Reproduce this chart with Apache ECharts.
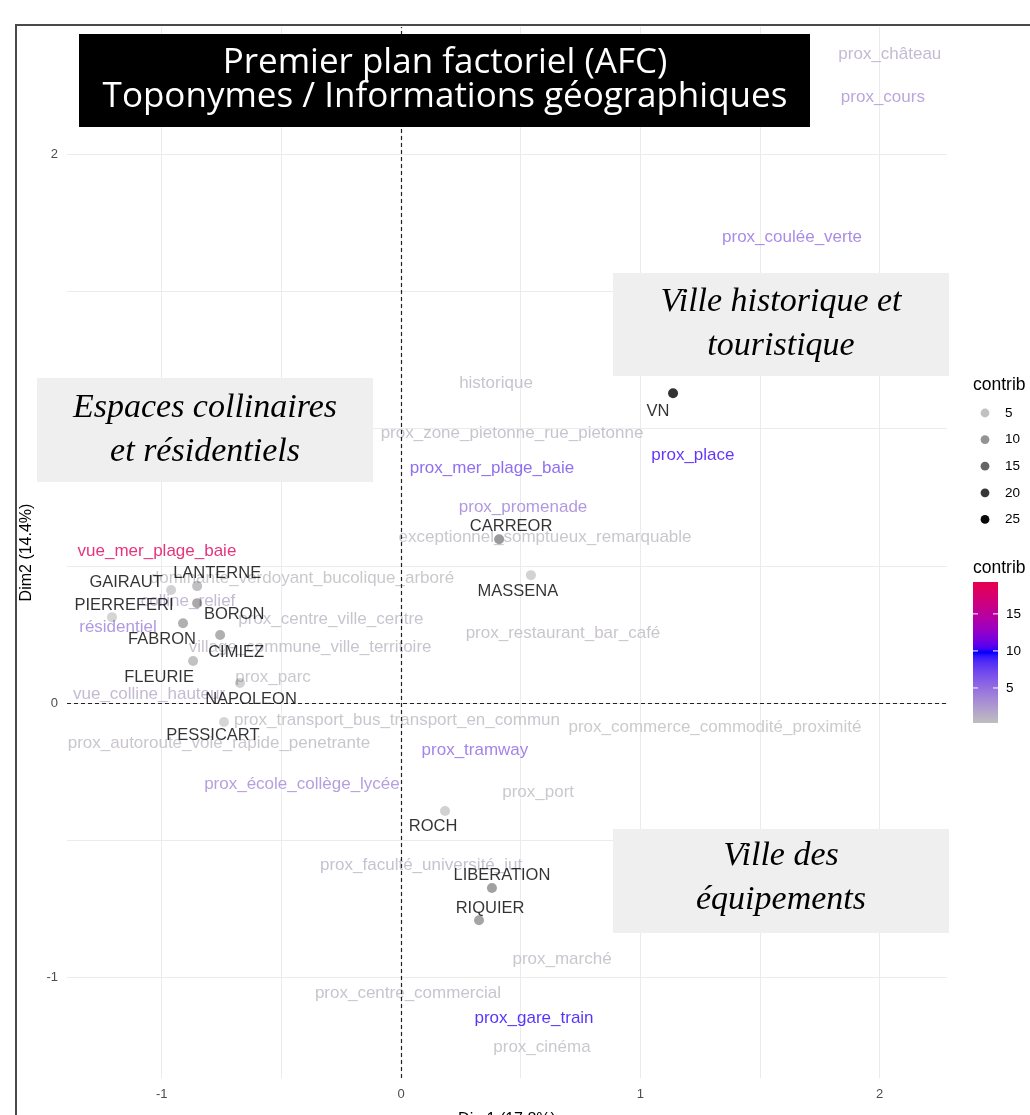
<!DOCTYPE html>
<html><head><meta charset="utf-8">
<script src="https://cdn.jsdelivr.net/npm/echarts@6/dist/echarts.min.js"></script>
<style>html,body{margin:0;padding:0;background:#fff}#c{width:1030px;height:1115px}</style>
</head><body><div id="c"></div>
<script>
// ---------- DATA ----------
const rowNames = ['VN','CARREOR','MASSENA','GAIRAUT','LANTERNE','PIERREFERI','BORON','FABRON','CIMIEZ','FLEURIE','NAPOLEON','PESSICART','ROCH','LIBERATION','RIQUIER'];
const rowDim1 = [1.137,0.410,0.543,-0.961,-0.852,-1.208,-0.852,-0.911,-0.756,-0.869,-0.673,-0.740,0.184,0.380,0.326];
const rowDim2 = [1.129,0.597,0.466,0.412,0.426,0.313,0.364,0.291,0.248,0.153,0.073,-0.069,-0.393,-0.674,-0.791];
const rowContrib = [26,12,4.3,4.5,6.8,4.0,10,9,9,6.5,4.5,4.0,4.5,11,10.5];

const colNames = ['prox_château','prox_cours','prox_coulée_verte','historique','prox_zone_pietonne_rue_pietonne','prox_mer_plage_baie','prox_place','prox_promenade','exceptionnel_somptueux_remarquable','vue_mer_plage_baie','dominante_verdoyant_bucolique_arboré','colline_relief','résidentiel','prox_centre_ville_centre','village_commune_ville_territoire','prox_restaurant_bar_café','prox_parc','vue_colline_hauteur','prox_transport_bus_transport_en_commun','prox_commerce_commodité_proximité','prox_autoroute_voie_rapide_penetrante','prox_tramway','prox_école_collège_lycée','prox_port','prox_faculté_université_iut','prox_marché','prox_centre_commercial','prox_gare_train','prox_cinéma'];
const colDim1 = [2.043,2.014,1.634,0.397,0.464,0.380,1.220,0.510,0.602,-1.020,-0.414,-0.890,-1.183,-0.293,-0.380,0.677,-0.535,-1.053,-0.017,1.312,-0.761,0.309,-0.414,0.573,0.084,0.673,0.029,0.556,0.589];
const colDim2 = [2.364,2.208,1.698,1.166,0.984,0.856,0.903,0.714,0.605,0.554,0.455,0.372,0.277,0.306,0.204,0.255,0.095,0.033,-0.062,-0.087,-0.146,-0.171,-0.295,-0.324,-0.590,-0.933,-1.056,-1.148,-1.253];
const colContrib = [1.5,3,5,0.8,0.8,7,10.2,4,0.6,18.5,0.5,1.5,4,0.8,0.8,0.7,0.5,1.5,0.6,0.27,0.7,5.5,3.5,0.5,1,0.6,0.8,10,0.5];

const xTickLabels = [-1,0,1,2];
const yTickLabels = [-1,0,1,2];
const xGridValues = [-1,-0.5,0,0.5,1,1.5,2];
const yGridValues = [-1,-0.5,0,0.5,1,1.5,2];
const alphaLegendValues = [5,10,15,20,25];
const colorLegendTicks = [5,10,15];

// ---------- LAYOUT / STYLE ----------
const ALPHA_LIMITS = [1, 26];
const COLOR_LIMITS = [0.27, 19.3];
const GRADIENT = ['#BEBEBE', '#0000FF', '#E6004C'];
const rowLabelOffset = {
  VN:[-15,18], CARREOR:[12,-13], MASSENA:[-13,16], GAIRAUT:[-45,-8], LANTERNE:[20,-13],
  PIERREFERI:[12,-12], BORON:[37,11], FABRON:[-21,16], CIMIEZ:[16,17], FLEURIE:[-34,16],
  NAPOLEON:[11,16], PESSICART:[-11,13], ROCH:[-12,16], LIBERATION:[10,-13], RIQUIER:[11,-12]
};

// ---------- colour helpers (Lab interpolation like ggplot gradientn) ----------
function hex2rgb(h){h=h.replace('#','');return [parseInt(h.substr(0,2),16),parseInt(h.substr(2,2),16),parseInt(h.substr(4,2),16)];}
function lin(c){c/=255;return c<=0.04045?c/12.92:Math.pow((c+0.055)/1.055,2.4);}
function delin(v){v=v<=0.0031308?12.92*v:1.055*Math.pow(v,1/2.4)-0.055;return Math.round(Math.max(0,Math.min(1,v))*255);}
function rgb2lab(rgb){const R=lin(rgb[0]),G=lin(rgb[1]),B=lin(rgb[2]);
  const X=(0.4124564*R+0.3575761*G+0.1804375*B)/0.95047,Y=(0.2126729*R+0.7151522*G+0.0721750*B),Z=(0.0193339*R+0.1191920*G+0.9503041*B)/1.08883;
  const f=t=>t>0.008856?Math.cbrt(t):7.787*t+16/116;const fx=f(X),fy=f(Y),fz=f(Z);
  return [116*fy-16,500*(fx-fy),200*(fy-fz)];}
function lab2rgb(lab){const fy=(lab[0]+16)/116,fx=fy+lab[1]/500,fz=fy-lab[2]/200;
  const fi=t=>{const t3=t*t*t;return t3>0.008856?t3:(t-16/116)/7.787;};
  const X=fi(fx)*0.95047,Y=fi(fy),Z=fi(fz)*1.08883;
  const R=3.2404542*X-1.5371385*Y-0.4985314*Z,G=-0.9692660*X+1.8760108*Y+0.0415560*Z,B=0.0556434*X-0.2040259*Y+1.0572252*Z;
  return 'rgb('+delin(R)+','+delin(G)+','+delin(B)+')';}
const labs = GRADIENT.map(c=>rgb2lab(hex2rgb(c)));
const cMin = COLOR_LIMITS[0], cMax = COLOR_LIMITS[1];
function colColor(v){let t=(v-cMin)/(cMax-cMin);t=Math.max(0,Math.min(1,t));
  let a,b,u;if(t<0.5){a=labs[0];b=labs[1];u=t*2;}else{a=labs[1];b=labs[2];u=(t-0.5)*2;}
  return lab2rgb([a[0]+(b[0]-a[0])*u,a[1]+(b[1]-a[1])*u,a[2]+(b[2]-a[2])*u]);}
function rowAlpha(v){let t=(v-ALPHA_LIMITS[0])/(ALPHA_LIMITS[1]-ALPHA_LIMITS[0]);t=Math.max(0,Math.min(1,t));return 0.1+0.9*t;}

// ---------- series data ----------
const colData = colNames.map((n,i)=>({
  name:n, value:[colDim1[i],colDim2[i],colContrib[i]],
  label:{show:true, formatter:n, color:colColor(colContrib[i])}
}));
const rowData = rowNames.map((n,i)=>({
  name:n, value:[rowDim1[i],rowDim2[i],rowContrib[i]],
  itemStyle:{color:'rgba(0,0,0,'+rowAlpha(rowContrib[i]).toFixed(3)+')'},
  label:{show:true, formatter:n, offset:rowLabelOffset[n]||[0,-14]}
}));

// ---------- graphics (title, annotations, legends) ----------
const font = 'Liberation Sans, Arial, sans-serif';
const graphics = [];
graphics.push({type:'rect', shape:{x:16,y:25,width:1100,height:1200}, style:{fill:'none',stroke:'#4a4a4a',lineWidth:2}, z:50, silent:true});
graphics.push({type:'rect', shape:{x:79,y:34,width:731,height:93}, style:{fill:'#000'}, z:60});
graphics.push({type:'text', x:445, y:80, style:{text:'Premier plan factoriel (AFC)\nToponymes / Informations géographiques', fill:'#fff', font:'35px "Open Sans", sans-serif', align:'center', verticalAlign:'middle', lineHeight:34}, z:61});
function annot(x,y,w,h,text,cx,cy){
  graphics.push({type:'rect', shape:{x:x,y:y,width:w,height:h}, style:{fill:'#efefef'}, z:60});
  graphics.push({type:'text', x:cx, y:cy, style:{text:text, fill:'#000', font:'italic 34px "Liberation Serif", serif', align:'center', verticalAlign:'middle', lineHeight:44}, z:61});
}
annot(37,378,336,104,'Espaces collinaires\net résidentiels',205,430);
annot(613,273,336,103,'Ville historique et\ntouristique',781,324);
annot(613,829,336,104,'Ville des\néquipements',781,878);

// alpha legend
graphics.push({type:'text', x:973, y:385, style:{text:'contrib', fill:'#000', font:'17.5px '+font, verticalAlign:'middle'}, z:60});
alphaLegendValues.forEach((v,i)=>{
  const cy = 413 + i*26.6;
  graphics.push({type:'circle', shape:{cx:985, cy:cy, r:4.4}, style:{fill:'rgba(0,0,0,'+rowAlpha(v).toFixed(3)+')'}, z:60});
  graphics.push({type:'text', x:1005, y:cy, style:{text:String(v), fill:'#000', font:'13.5px '+font, verticalAlign:'middle'}, z:60});
});
// colour bar legend
const barX=973, barY=582, barW=25, barH=141;
graphics.push({type:'text', x:973, y:568, style:{text:'contrib', fill:'#000', font:'17.5px '+font, verticalAlign:'middle'}, z:60});
const stops=[];for(let k=0;k<=40;k++){const v=cMax-(cMax-cMin)*k/40;stops.push({offset:k/40,color:colColor(v)});}
graphics.push({type:'rect', shape:{x:barX,y:barY,width:barW,height:barH}, style:{fill:new echarts.graphic.LinearGradient(0,0,0,1,stops)}, z:60});
colorLegendTicks.forEach(v=>{
  const yy = barY + barH - (v-cMin)/(cMax-cMin)*barH;
  graphics.push({type:'line', shape:{x1:barX,y1:yy,x2:barX+5,y2:yy}, style:{stroke:'#fff',lineWidth:1}, z:61});
  graphics.push({type:'line', shape:{x1:barX+barW-5,y1:yy,x2:barX+barW,y2:yy}, style:{stroke:'#fff',lineWidth:1}, z:61});
  graphics.push({type:'text', x:1006, y:yy, style:{text:String(v), fill:'#000', font:'13.5px '+font, verticalAlign:'middle'}, z:60});
});

// ---------- chart ----------
const chart = echarts.init(document.getElementById('c'));
chart.setOption({
  backgroundColor:'#fff',
  animation:false,
  grid:{left:67,right:83,top:27,bottom:37,containLabel:false,outerBoundsMode:'none'},
  xAxis:{type:'value', min:-1.396, max:2.282,
    axisLine:{show:false}, axisTick:{show:false, customValues:xGridValues},
    axisLabel:{customValues:xTickLabels, color:'#4d4d4d', fontSize:13, margin:10, fontFamily:font},
    splitLine:{show:true, lineStyle:{color:'#ebebeb', width:1}},
    name:'Dim1 (17.8%)', nameLocation:'middle', nameGap:34, nameTextStyle:{fontSize:16, color:'#000', fontFamily:font}},
  yAxis:{type:'value', min:-1.366, max:2.463,
    axisLine:{show:false}, axisTick:{show:false, customValues:yGridValues},
    axisLabel:{customValues:yTickLabels, color:'#4d4d4d', fontSize:13, margin:9, fontFamily:font},
    splitLine:{show:true, lineStyle:{color:'#ebebeb', width:1}},
    name:'Dim2 (14.4%)', nameLocation:'middle', nameGap:32, nameTextStyle:{fontSize:16, color:'#000', fontFamily:font}},
  graphic:graphics,
  series:[
    {type:'scatter', name:'colonnes', z:2, symbolSize:1, silent:true,
      itemStyle:{color:'rgba(0,0,0,0)'},
      label:{show:true, position:'inside', fontSize:17, fontFamily:font, textBorderWidth:0, textBorderColor:'transparent'},
      data:colData},
    {type:'scatter', name:'lignes', z:3, symbolSize:10, silent:true,
      label:{show:true, position:'inside', fontSize:16.5, fontFamily:font, color:'#000', textBorderWidth:0, textBorderColor:'transparent'},
      data:rowData,
      markLine:{silent:true, symbol:'none', label:{show:false},
        lineStyle:{color:'#222', type:[4,3], width:1.2},
        data:[{xAxis:0},{yAxis:0}]}}
  ]
});
</script></body></html>
